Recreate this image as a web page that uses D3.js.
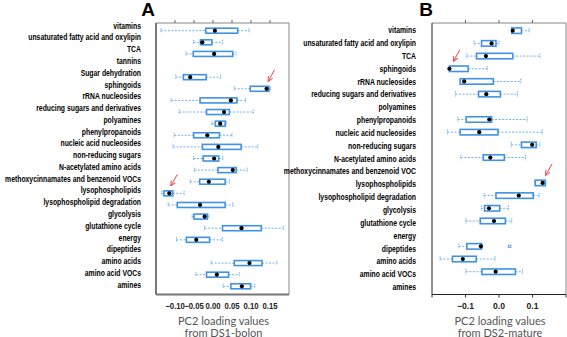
<!DOCTYPE html>
<html><head><meta charset="utf-8">
<script src="https://cdn.jsdelivr.net/npm/d3@7"></script>
<style>body{margin:0;background:#fff}svg{display:block}</style>
</head><body>
<svg id="c" width="567" height="337"></svg>
<script>
// ---------- data ----------
const catsA = ["vitamins","unsaturated fatty acid and oxylipin","TCA","tannins","Sugar dehydration","sphingoids","rRNA nucleosides","reducing sugars and derivatives","polyamines","phenylpropanoids","nucleic acid nucleosides","non-reducing sugars","N-acetylated amino acids","methoxycinnamates and benzenoid VOCs","lysophospholipids","lysophospholipid degradation","glycolysis","glutathione cycle","energy","dipeptides","amino acids","amino acid VOCs","amines"];
const lowA  = [-0.137,-0.051,-0.071,null,-0.098,0.056,-0.110,-0.089,-0.003,-0.102,-0.105,-0.051,-0.049,-0.060,-0.135,-0.118,-0.055,-0.022,-0.096,null,-0.005,-0.045,0.027];
const q1A   = [-0.019,-0.033,-0.052,null,-0.078,0.098,-0.034,-0.017,0.006,-0.051,-0.028,-0.026,0.013,-0.035,-0.129,-0.094,-0.050,0.025,-0.070,null,0.056,-0.017,0.047];
const q3A   = [0.065,-0.003,0.052,null,-0.018,0.147,0.063,0.043,0.032,0.017,0.074,0.015,0.061,0.032,-0.106,0.032,-0.015,0.127,-0.009,null,0.129,0.041,0.099];
const midA  = [0.005,-0.028,0.003,null,-0.060,0.141,0.047,0.029,0.019,-0.015,0.014,0.003,0.052,-0.011,-0.115,-0.034,-0.022,0.075,-0.044,null,0.096,0.010,0.076];
const highA = [0.095,0.025,0.061,null,0.020,0.151,0.086,0.106,0.035,0.050,0.118,0.026,0.090,0.043,-0.076,0.052,-0.011,0.185,0.025,null,0.168,0.069,0.110];
const ticksA = [-0.10,-0.05,0.00,0.05,0.10,0.15];
const arrowsA = [{cat:"sphingoids", v:0.145},{cat:"lysophospholipids", v:-0.111}];

const catsB = ["vitamins","unsaturated fatty acid and oxylipin","TCA","sphingoids","rRNA nucleosides","reducing sugars and derivatives","polyamines","phenylpropanoids","nucleic acid nucleosides","non-reducing sugars","N-acetylated amino acids","methoxycinnamates and benzenoid VOC","lysophospholipids","lysophospholipid degradation","glycolysis","glutathione cycle","energy","dipeptides","amino acids","amino acid VOCs","amines"];
const lowB  = [0.038,-0.074,-0.096,-0.148,-0.116,-0.130,null,-0.123,-0.154,0.037,-0.114,null,0.107,-0.044,-0.053,-0.099,null,-0.120,-0.176,-0.099,null];
const q1B   = [0.038,-0.052,-0.067,-0.148,-0.116,-0.061,null,-0.098,-0.116,0.067,-0.047,null,0.108,-0.009,-0.043,-0.056,null,-0.096,-0.139,-0.051,null];
const q3B   = [0.067,-0.009,0.041,-0.092,-0.017,0.004,null,-0.022,-0.003,0.111,0.016,null,0.138,0.102,0.002,0.019,null,-0.052,-0.068,0.049,null];
const midB  = [0.041,-0.022,-0.039,-0.148,-0.104,-0.038,null,-0.029,-0.059,0.099,-0.026,null,0.130,0.059,-0.030,-0.015,null,-0.054,-0.108,-0.010,null];
const highB = [0.090,0.000,0.122,-0.035,0.065,0.055,null,0.084,0.129,0.122,0.079,null,0.140,0.120,0.028,0.038,null,-0.052,-0.012,0.070,null];
const outliersB = [{cat:"dipeptides", v:0.032}];
const ticksB = [-0.1,0.0,0.1];
const ticksBbottom = [-0.2,-0.1,0.0,0.1,0.2];
const arrowsB = [{cat:"sphingoids", v:-0.136},{cat:"lysophospholipids", v:0.139}];

// ---------- drawing ----------
const svg = d3.select("#c");
const BLUE = "#3f92e6", LBLUE = "#6fb0f0", ARROW = "#f04848";

function w(ff){
  const t = svg.append("text").attr("font-family",ff).attr("font-weight","bold").attr("font-size",20).text("methoxycinnamates and benzenoid");
  const v = t.node().getComputedTextLength(); t.remove(); return v;
}
const hasNarrow = Math.abs(w("'Liberation Sans Narrow', monospace") - w("monospace")) > 1;
const LABFONT = hasNarrow ? "'Liberation Sans Narrow'" : "'Liberation Sans', Arial, sans-serif";
const LABSIZE = hasNarrow ? 8.4 : 9;
const SQ = hasNarrow ? 1 : 0.76;

svg.append("defs").append("marker").attr("id","ah").attr("viewBox","0 0 10 10")
  .attr("refX",9).attr("refY",5).attr("markerWidth",6).attr("markerHeight",6).attr("orient","auto")
  .append("path").attr("d","M1,1 L9,5 L1,9").attr("fill","none").attr("stroke",ARROW).attr("stroke-width",1.6);

function panel(o){
  const x = d3.scaleLinear().domain(o.domain).range([o.left,o.right]);
  const y = d3.scalePoint().domain(o.cats).range(o.boxY);
  const yl = d3.scalePoint().domain(o.cats).range(o.labY);
  const g = svg.append("g");

  // labels (grayscale antialiasing via group opacity)
  const lg = g.append("g").attr("opacity",0.999).attr("transform",`translate(${o.labX},0) scale(${SQ},1)`);
  lg.selectAll("text").data(o.cats).join("text")
    .attr("x",0).attr("y",d=>yl(d)).attr("dy","0.35em")
    .attr("text-anchor","end").attr("font-family",LABFONT)
    .attr("font-weight","bold").attr("font-size",LABSIZE).attr("fill","#000").text(d=>d);

  // frame
  g.append("line").attr("x1",o.left).attr("x2",o.right).attr("y1",o.top).attr("y2",o.top).attr("stroke","#888").attr("stroke-width",1);
  g.append("line").attr("x1",o.right).attr("x2",o.right).attr("y1",o.top).attr("y2",o.bottom).attr("stroke","#888").attr("stroke-width",o.rightW);
  g.append("line").attr("x1",o.left).attr("x2",o.left).attr("y1",o.top).attr("y2",o.bottom).attr("stroke",o.leftColor).attr("stroke-width",o.leftW);
  g.append("line").attr("x1",o.left).attr("x2",o.right).attr("y1",o.bottom).attr("y2",o.bottom).attr("stroke",o.leftColor).attr("stroke-width",o.leftW);

  g.selectAll(".tt").data(o.topTicks).join("line").attr("x1",d=>x(d)).attr("x2",d=>x(d))
    .attr("y1",o.top-3).attr("y2",o.top).attr("stroke","#666").attr("stroke-width",1);
  g.selectAll(".bt").data(o.bottomTicks).join("line").attr("x1",d=>x(d)).attr("x2",d=>x(d))
    .attr("y1",o.bottom).attr("y2",o.bottom+3).attr("stroke","#333").attr("stroke-width",1);
  const tg = g.append("g").attr("opacity",0.999);
  o.labelTicks.forEach(d=>{
    tg.append("text").attr("transform",`translate(${x(d)},${o.bottom+14.5}) scale(${o.tickSq},1)`)
      .attr("text-anchor","middle").attr("font-family","'Liberation Sans', Arial, sans-serif")
      .attr("font-weight","bold").attr("font-size",8.6).attr("fill","#222").text(o.fmt(d));
  });
  const cx = (o.left+o.right)/2 + 1;
  o.title.forEach((t,i)=>g.append("text").attr("x",cx).attr("y",o.bottom+30.5+i*11.5)
    .attr("text-anchor","middle").attr("font-family","Lato, 'Open Sans', sans-serif")
    .attr("font-size",11).attr("fill","#555").text(t));

  const rows = o.cats.map((c,i)=>({c,lo:o.lo[i],q1:o.q1[i],q3:o.q3[i],mid:o.mid[i],hi:o.hi[i]})).filter(d=>d.q1!==null);
  const bh = o.bh;
  rows.forEach(d=>{
    const yy = y(d.c);
    const dash = "2,1.5";
    if(d.lo < d.q1){
      g.append("line").attr("x1",x(d.lo)).attr("x2",x(d.q1)).attr("y1",yy).attr("y2",yy).attr("stroke",LBLUE).attr("stroke-width",1).attr("stroke-dasharray",dash);
      g.append("line").attr("x1",x(d.lo)).attr("x2",x(d.lo)).attr("y1",yy-bh/2).attr("y2",yy+bh/2).attr("stroke",LBLUE).attr("stroke-width",1).attr("stroke-dasharray","1.5,1");
    }
    if(d.hi > d.q3){
      g.append("line").attr("x1",x(d.q3)).attr("x2",x(d.hi)).attr("y1",yy).attr("y2",yy).attr("stroke",LBLUE).attr("stroke-width",1).attr("stroke-dasharray",dash);
      g.append("line").attr("x1",x(d.hi)).attr("x2",x(d.hi)).attr("y1",yy-bh/2).attr("y2",yy+bh/2).attr("stroke",LBLUE).attr("stroke-width",1).attr("stroke-dasharray","1.5,1");
    }
    g.append("rect").attr("x",x(d.q1)).attr("y",yy-bh/2).attr("width",x(d.q3)-x(d.q1)).attr("height",bh)
      .attr("fill","#fff").attr("stroke",BLUE).attr("stroke-width",1.6);
    g.append("circle").attr("cx",x(d.mid)).attr("cy",yy).attr("r",2.1).attr("fill","#000");
  });
  (o.outliers||[]).forEach(p=>{
    g.append("rect").attr("x",x(p.v)-1.2).attr("y",y(p.cat)-1.2).attr("width",2.4).attr("height",2.4)
      .attr("fill","none").attr("stroke",BLUE).attr("stroke-width",0.8);
  });
  o.arrows.forEach(a=>{
    const tx = x(a.v), ty = y(a.cat) - 7.5;
    g.append("line").attr("x1",tx+6.5).attr("y1",ty-11.5).attr("x2",tx).attr("y2",ty)
      .attr("stroke",ARROW).attr("stroke-width",1).attr("marker-end","url(#ah)");
  });
  svg.append("text").attr("x",o.letterX).attr("y",16).attr("text-anchor","middle")
    .attr("font-family","'Liberation Sans', Arial, sans-serif").attr("font-weight","bold").attr("font-size",19).text(o.letter);
}

panel({cats:catsA, lo:lowA, q1:q1A, q3:q3A, mid:midA, hi:highA,
  domain:[-0.15,0.20], left:156, right:289, top:23, bottom:294.5,
  boxY:[30.7,286.3], labY:[25.5,284.5], labX:141, bh:5,
  leftColor:"#777", leftW:2, rightW:1,
  topTicks:ticksA, bottomTicks:[], labelTicks:ticksA, fmt:d3.format(".2f"), tickSq:0.9,
  title:["PC2 loading values","from DS1-bolon"], arrows:arrowsA,
  letter:"A", letterX:148});

panel({cats:catsB, lo:lowB, q1:q1B, q3:q3B, mid:midB, hi:highB, outliers:outliersB,
  domain:[-0.2,0.2], left:432, right:566, top:23, bottom:294.5,
  boxY:[30.7,284.4], labY:[30,287], labX:416, bh:5.5,
  leftColor:"#222", leftW:1, rightW:1,
  topTicks:ticksB, bottomTicks:ticksBbottom, labelTicks:ticksB, fmt:d3.format(".1f"), tickSq:1,
  title:["PC2 loading values","from DS2-mature"], arrows:arrowsB,
  letter:"B", letterX:426});
</script>
</body></html>
